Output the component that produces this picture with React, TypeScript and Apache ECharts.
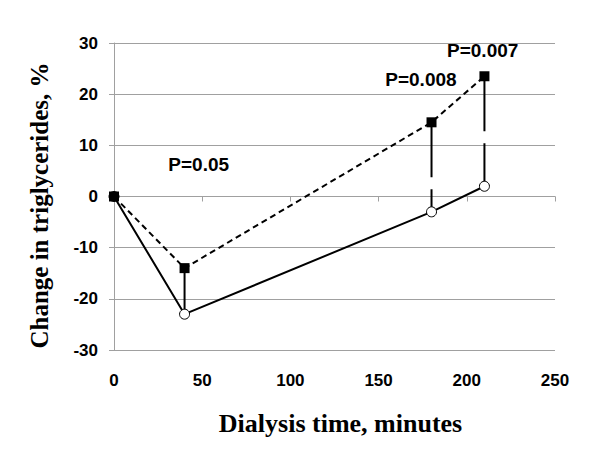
import React, { useEffect, useRef } from "react";
import * as echarts from "echarts";

const times = [0, 40, 180, 210];
const withValues = [0, -14, 14.5, 23.5];
const withoutValues = [0, -23, -3, 2];
const pLabels = ["", "P=0.05", "P=0.008", "P=0.007"];
const pLabelX = [0, 48, 174, 209];
const pLabelY = [0, 6.2, 22.8, 28.6];
const xTicks = [0, 50, 100, 150, 200, 250];
const yTicks = [-30, -20, -10, 0, 10, 20, 30];

export default function App() {
  const ref = useRef<HTMLDivElement>(null);
  useEffect(() => {
    const chart = echarts.init(ref.current!, null, { renderer: "svg" });
    const gray = "#a0a0a0";
    const connectors = times
      .map((t, i) => ({ t, i }))
      .filter((d) => d.i > 0)
      .map((d) => ({
        type: "line",
        data: [
          [d.t, withValues[d.i]],
          [d.t, withoutValues[d.i]],
        ],
        symbol: "none",
        lineStyle: { color: "#000", width: 2, type: [55, 12] },
        z: 1,
        silent: true,
      }));
    chart.setOption({
      animation: false,
      grid: { left: 114, right: 45, top: 43, bottom: 112 },
      xAxis: {
        type: "value",
        min: xTicks[0],
        max: xTicks[xTicks.length - 1],
        interval: 50,
        name: "Dialysis time, minutes",
        nameLocation: "middle",
        nameGap: 60,
        nameTextStyle: {
          fontFamily: "Liberation Serif",
          fontWeight: "bold",
          fontSize: 26,
          color: "#000",
          padding: [0, 0, 0, 12],
        },
        axisLine: { lineStyle: { color: gray, width: 1 } },
        axisTick: { show: true, length: 5, lineStyle: { color: gray } },
        axisLabel: { fontFamily: "Liberation Sans", fontWeight: "bold", fontSize: 17, color: "#000", margin: 22 },
        splitLine: { show: false },
      },
      yAxis: {
        type: "value",
        min: yTicks[0],
        max: yTicks[yTicks.length - 1],
        interval: 10,
        name: "Change in triglycerides, %",
        nameLocation: "middle",
        nameGap: 62,
        nameTextStyle: {
          fontFamily: "Liberation Serif",
          fontWeight: "bold",
          fontSize: 25,
          color: "#000",
          padding: [0, 18, 0, 0],
        },
        axisLine: { show: true, lineStyle: { color: gray, width: 1 } },
        axisTick: { show: true, length: 5, lineStyle: { color: gray } },
        axisLabel: { fontFamily: "Liberation Sans", fontWeight: "bold", fontSize: 17, color: "#000", margin: 16 },
        splitLine: { show: true, lineStyle: { color: gray, width: 1 } },
      },
      series: [
        ...connectors,
        {
          type: "line",
          data: times.map((t, i) => [t, withoutValues[i]]),
          symbol: "circle",
          symbolSize: 10,
          itemStyle: { color: "#fff", borderColor: "#000", borderWidth: 1 },
          lineStyle: { color: "#000", width: 2 },
          z: 2,
        },
        {
          type: "line",
          data: times.map((t, i) => [t, withValues[i]]),
          symbol: "rect",
          symbolSize: 10,
          itemStyle: { color: "#000" },
          lineStyle: { color: "#000", width: 2, type: [6, 4] },
          z: 3,
        },
      ],
    });
    const texts = pLabels
      .map((l, i) => ({ l, i }))
      .filter((d) => d.l)
      .map((d) => {
        const [px, py] = chart.convertToPixel({ gridIndex: 0 }, [pLabelX[d.i], pLabelY[d.i]]) as number[];
        return {
          type: "text",
          x: px,
          y: py,
          z: 10,
          style: {
            text: d.l,
            fill: "#000000",
            fontFamily: "Liberation Sans",
            fontWeight: "bold",
            fontSize: 19,
            align: "center",
            verticalAlign: "middle",
          },
        };
      });
    chart.setOption({ graphic: texts });
    return () => chart.dispose();
  }, []);
  return <div ref={ref} style={{ width: 600, height: 462, margin: -8 }} />;
}
